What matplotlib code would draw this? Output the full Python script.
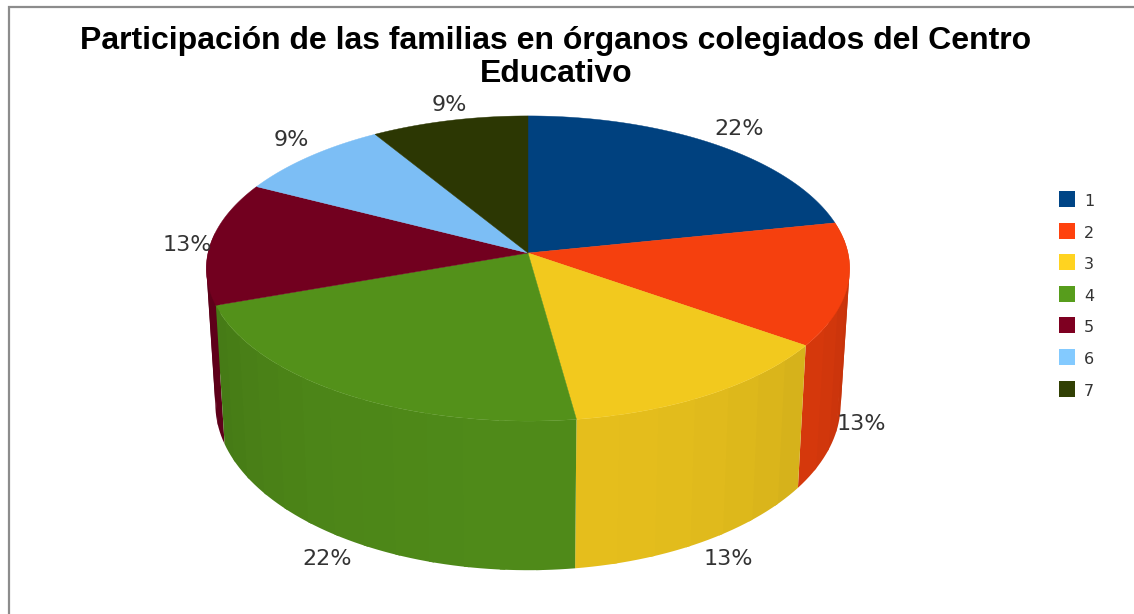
import numpy as np
import matplotlib
matplotlib.use("Agg")
import matplotlib.pyplot as plt
from matplotlib.patches import Rectangle, Polygon
from matplotlib.transforms import Bbox

title = "Participación de las familias en órganos colegiados del Centro\nEducativo"
categories = ["1", "2", "3", "4", "5", "6", "7"]
values = [5, 3, 3, 5, 3, 2, 2]
colors = ["#00417F", "#F5400E", "#F2C91E", "#53911A", "#72001F", "#7CBEF5", "#2C3703"]
legend_colors = ["#004586", "#FF420E", "#FFD320", "#579D1C", "#7E0021", "#83CAFF", "#314004"]

# layout of the labels, in pixels
label_pos = [(739, 129), (861, 424), (728, 559), (327, 559), (187, 245), (291, 140), (449, 105)]

W, H = 1134, 614
CX, CY = 528, 253
A, B, K = 320, 151, 0.1016
SY, OFF, SX = 1.09, 134, 0.972


def top(theta):
    u, v = np.sin(theta), np.cos(theta)
    w = 1 + K * v
    return CX + A * u / w, CY - B * v / w


def bottom(theta):
    x, y = top(theta)
    return CX + SX * (x - CX), CY + SY * (y - CY) + OFF


fig = plt.figure(figsize=(W / 100, H / 100), dpi=100, facecolor="white")
ax = fig.add_axes([0, 0, 1, 1])
ax.set_xlim(0, W)
ax.set_ylim(H, 0)
ax.axis("off")

ax.plot([9, 9, W], [H, 7, 7], color="#8c8c8c", lw=1.6, solid_joinstyle="miter", zorder=1)

t = ax.text(556, 57.5, title, ha="center", va="center", fontsize=23, fontweight="bold",
            family="Liberation Sans", color="black", linespacing=1.14, zorder=2)
t.set_clip_box(Bbox([[0, H - 85], [W, H]]))
t.set_clip_on(True)

fractions = np.array(values, dtype=float) / sum(values)
edges = np.concatenate([[0], np.cumsum(fractions)]) * 2 * np.pi

# side wall: banded strips, drawn back to front
strips = []
for i, c in enumerate(colors):
    n = max(2, int(np.degrees(edges[i + 1] - edges[i]) / 6))
    th = np.linspace(edges[i], edges[i + 1], n + 1)
    for a, b in zip(th[:-1], th[1:]):
        m = (a + b) / 2
        if np.cos(m) < 0.15:
            strips.append((np.cos(m), max(a - 0.008, edges[i]), min(b + 0.008, edges[i + 1]), c))
strips.sort(key=lambda s: -s[0])
for cm, a, b, c in strips:
    f = 0.78 + 0.17 * max(-cm, 0)
    rgb = np.array(matplotlib.colors.to_rgb(c)) * f
    tt = np.linspace(a, b, 6)
    x1, y1 = top(tt)
    x2, y2 = bottom(tt)
    pts = np.column_stack([np.r_[x1, x2[::-1]], np.r_[y1, y2[::-1]]])
    ax.add_patch(Polygon(pts, closed=True, fc=rgb, ec="none", zorder=3))

# top face
for i, c in enumerate(colors):
    th = np.linspace(edges[i], edges[i + 1], 120)
    x, y = top(th)
    pts = np.column_stack([np.r_[CX, x], np.r_[CY, y]])
    ax.add_patch(Polygon(pts, closed=True, fc=c, ec=c, lw=0.3, zorder=4))

# percentage labels
for v, (lx, ly) in zip(fractions, label_pos):
    ax.text(lx, ly, f"{v * 100:.0f}%", ha="center", va="center", fontsize=16,
            family="DejaVu Sans", color="#333333", zorder=5)

# legend
for i, (cat, c) in enumerate(zip(categories, legend_colors)):
    y = 191 + i * 31.6
    ax.add_patch(Rectangle((1059, y), 16, 16, fc=c, ec="none", zorder=5))
    ax.text(1084, y + 10.5, cat, ha="left", va="center", fontsize=11.5,
            family="DejaVu Sans", color="#333333", zorder=5)

fig.savefig("out.png", dpi=100)
